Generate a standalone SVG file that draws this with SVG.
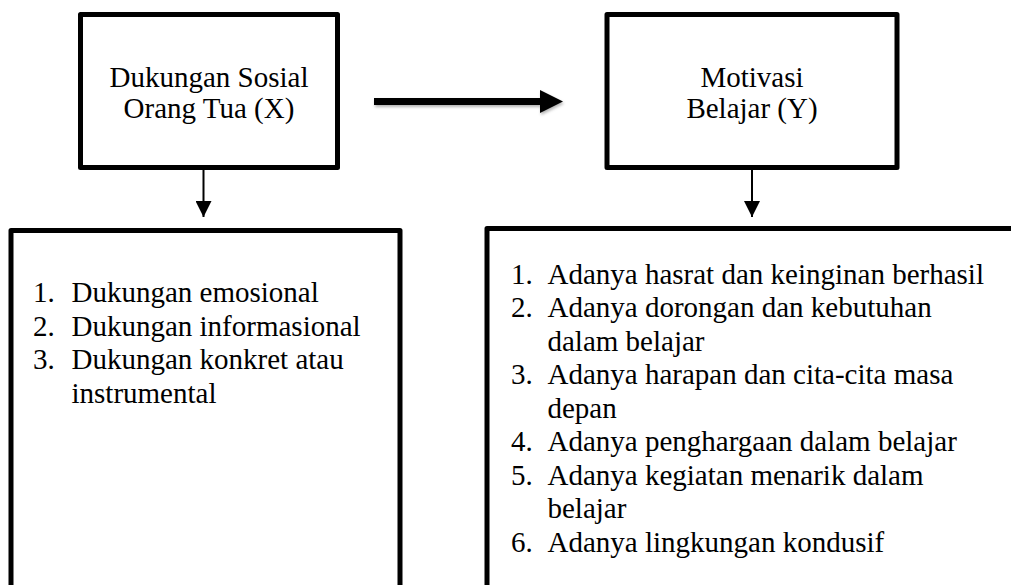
<svg xmlns="http://www.w3.org/2000/svg" width="1011" height="585" viewBox="0 0 1011 585">
<style>
.box{fill:#fff;stroke:#000;stroke-width:5;stroke-linejoin:round}
.t{font-family:"Liberation Serif","Times New Roman",serif;font-size:29px;fill:#000}
.c{text-anchor:middle}
.thin{stroke:#000;stroke-width:2;fill:none}
</style>
<defs>
<marker id="ah" markerWidth="16" markerHeight="16" viewBox="0 0 16 16" refX="16" refY="8" orient="auto" markerUnits="userSpaceOnUse">
<path d="M0,0 L16,8 L0,16 Z" fill="#000"/>
</marker>
<filter id="sh" x="-10%" y="-50%" width="120%" height="200%">
<feDropShadow dx="1" dy="2" stdDeviation="1.5" flood-color="#000" flood-opacity="0.3"/>
</filter>
</defs>
<g id="nodeX">
<rect class="box" x="80.5" y="14.5" width="257" height="153"/>
<text class="t c" x="209" y="87">Dukungan Sosial</text>
<text class="t c" x="209" y="118">Orang Tua (X)</text>
</g>
<g id="nodeY">
<rect class="box" x="607" y="14.5" width="290" height="153"/>
<text class="t c" x="752" y="87">Motivasi</text>
<text class="t c" x="752" y="118">Belajar (Y)</text>
</g>
<g id="listX">
<rect class="box" x="11" y="230.5" width="389" height="370"/>
<text class="t" x="33" y="302">1.</text><text class="t" x="71.5" y="302">Dukungan emosional</text>
<text class="t" x="33" y="335.5">2.</text><text class="t" x="71.5" y="335.5">Dukungan informasional</text>
<text class="t" x="33" y="369">3.</text><text class="t" x="71.5" y="369">Dukungan konkret atau</text>
<text class="t" x="71.5" y="402.5">instrumental</text>
</g>
<g id="listY">
<rect class="box" x="487" y="228.5" width="540" height="370"/>
<text class="t" x="511" y="283.5">1.</text><text class="t" x="547.5" y="283.5">Adanya hasrat dan keinginan berhasil</text>
<text class="t" x="511" y="317">2.</text><text class="t" x="547.5" y="317">Adanya dorongan dan kebutuhan</text>
<text class="t" x="547.5" y="350.5">dalam belajar</text>
<text class="t" x="511" y="384">3.</text><text class="t" x="547.5" y="384">Adanya harapan dan cita-cita masa</text>
<text class="t" x="547.5" y="417.5">depan</text>
<text class="t" x="511" y="451">4.</text><text class="t" x="547.5" y="451">Adanya penghargaan dalam belajar</text>
<text class="t" x="511" y="484.5">5.</text><text class="t" x="547.5" y="484.5">Adanya kegiatan menarik dalam</text>
<text class="t" x="547.5" y="518">belajar</text>
<text class="t" x="511" y="551.5">6.</text><text class="t" x="547.5" y="551.5">Adanya lingkungan kondusif</text>
</g>
<g id="connectors">
<line class="thin" x1="203.5" y1="170" x2="203.5" y2="217" marker-end="url(#ah)"/>
<line class="thin" x1="752" y1="170" x2="752" y2="217" marker-end="url(#ah)"/>
<g filter="url(#sh)">
<rect x="374" y="98" width="168" height="7" fill="#000"/>
<path d="M540,90 L563,101.5 L540,113 Z" fill="#000"/>
</g>
</g>
</svg>
